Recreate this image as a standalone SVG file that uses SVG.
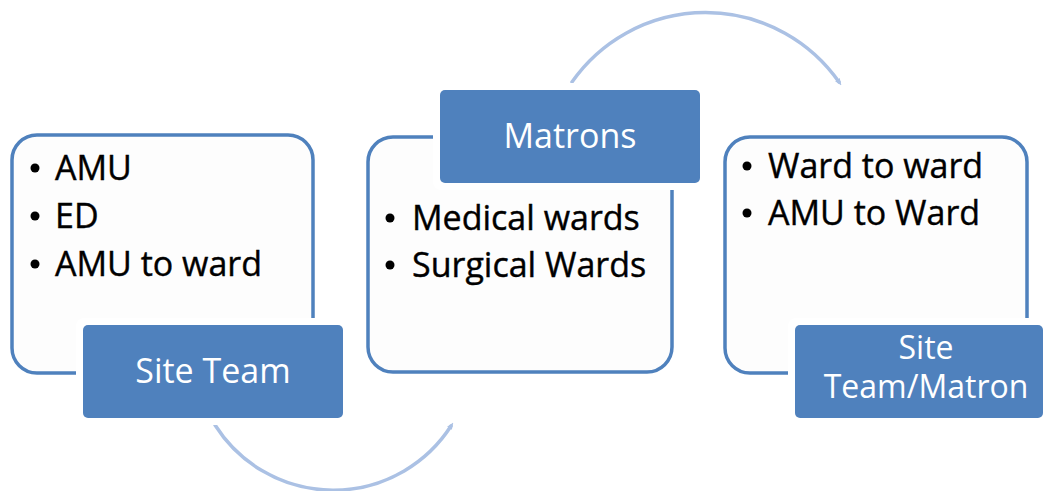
<svg xmlns="http://www.w3.org/2000/svg" width="1045" height="491" viewBox="0 0 1045 491">
  <style>
    .frame { fill: #fdfdfd; stroke: #4f81bd; stroke-width: 3.5; }
    .halo { fill: #ffffff; }
    .tab { fill: #4f81bd; }
    .item { font-family: "Open Sans", "Liberation Sans", sans-serif; font-size: 34px; fill: #000000; stroke: #000000; stroke-width: 0.4; }
    .title { font-family: "Open Sans", "Liberation Sans", sans-serif; font-size: 34px; fill: #ffffff; text-anchor: middle; }
    .title.two { font-size: 32px; }
    .dot { fill: #000000; }
    .flow { fill: none; stroke: #abc1e4; stroke-width: 3.5; stroke-linecap: round; marker-end: url(#tip); }
  </style>
  <defs>
    <marker id="tip" viewBox="0 0 10 10" refX="4" refY="5" markerWidth="2" markerHeight="2" orient="auto" markerUnits="strokeWidth">
      <path d="M0,1 L10,5 L0,9 Z" fill="#abc1e4"/>
    </marker>
  </defs>

  <rect width="1045" height="491" fill="#ffffff"/>

  <!-- curved flow arrows between the stages -->
  <g id="connectors">
    <path class="flow" d="M215,425 A140,140 0 0 0 451,426"/>
    <path class="flow" d="M572,82 A163,163 0 0 1 839,82"/>
  </g>

  <!-- stage 1 -->
  <g id="site-team">
    <rect class="frame" x="12" y="135" width="301" height="238" rx="25"/>
    <circle class="dot" cx="35" cy="168" r="4.5"/>
    <text class="item" x="55" y="180">AMU</text>
    <circle class="dot" cx="35" cy="216" r="4.5"/>
    <text class="item" x="55" y="228">ED</text>
    <circle class="dot" cx="35" cy="264" r="4.5"/>
    <text class="item" x="55" y="276">AMU to ward</text>
    <rect class="halo" x="76" y="318" width="274" height="107" rx="8"/>
    <rect class="tab" x="83" y="325" width="260" height="93" rx="5"/>
    <text class="title" x="213" y="383">Site Team</text>
  </g>

  <!-- stage 2 -->
  <g id="matrons">
    <rect class="frame" x="368" y="137" width="304" height="235" rx="25"/>
    <rect class="halo" x="433" y="83" width="274" height="107" rx="8"/>
    <rect class="tab" x="440" y="90" width="260" height="93" rx="5"/>
    <text class="title" x="570" y="148">Matrons</text>
    <circle class="dot" cx="390" cy="218" r="4.5"/>
    <text class="item" x="412" y="230">Medical wards</text>
    <circle class="dot" cx="390" cy="265" r="4.5"/>
    <text class="item" x="412" y="277">Surgical Wards</text>
  </g>

  <!-- stage 3 -->
  <g id="site-team-matron">
    <rect class="frame" x="725" y="137" width="302" height="236" rx="25"/>
    <circle class="dot" cx="747" cy="166" r="4.5"/>
    <text class="item" x="768" y="178">Ward to ward</text>
    <circle class="dot" cx="747" cy="213" r="4.5"/>
    <text class="item" x="768" y="225">AMU to Ward</text>
    <rect class="halo" x="788" y="318" width="262" height="107" rx="8"/>
    <rect class="tab" x="795" y="325" width="248" height="93" rx="5"/>
    <text class="title two" x="926" y="359">Site</text>
    <text class="title two" x="926" y="398">Team/Matron</text>
  </g>
</svg>
